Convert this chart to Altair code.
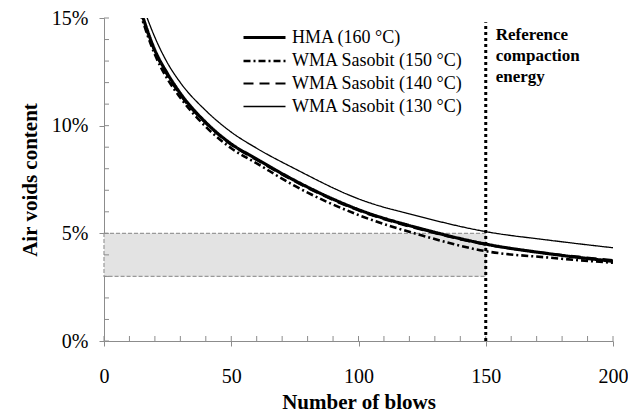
import altair as alt
import pandas as pd

# ---- data ----
series_names = ["HMA (160 °C)", "WMA Sasobit (150 °C)", "WMA Sasobit (140 °C)", "WMA Sasobit (130 °C)"]

hma_blows = [14, 20, 25, 30, 40, 50, 60, 75, 100, 125, 150, 175, 200]
hma_voids = [15.5, 13.5, 12.4, 11.5, 10.15, 9.15, 8.45, 7.45, 6.1, 5.2, 4.5, 4.05, 3.7]

w150_blows = [14, 20, 25, 30, 40, 50, 60, 75, 100, 125, 150, 175, 200]
w150_voids = [15.3, 13.3, 12.15, 11.3, 9.95, 8.95, 8.25, 7.2, 5.85, 4.9, 4.17, 3.87, 3.63]

w140_blows = [14, 20, 25, 30, 40, 50, 60, 75, 100, 125, 150, 175, 200]
w140_voids = [15.4, 13.4, 12.3, 11.4, 10.1, 9.1, 8.4, 7.4, 6.05, 5.15, 4.47, 4.07, 3.76]

w130_blows = [16, 20, 25, 30, 40, 50, 60, 75, 100, 125, 150, 175, 200]
w130_voids = [15.3, 14.1, 12.9, 12.0, 10.7, 9.7, 8.95, 8.0, 6.6, 5.75, 5.08, 4.68, 4.33]

band_x = [0, 150]
band_y = [3, 5]
reference_blows = 150
reference_text = ["Reference", "compaction", "energy"]

x_major = [0, 50, 100, 150, 200]
x_minor = list(range(0, 201, 10))
y_major = [0, 5, 10, 15]
y_minor = list(range(0, 16, 1))

# ---- build tables ----
rows = []
for name, bl, vv in zip(series_names,
                        [hma_blows, w150_blows, w140_blows, w130_blows],
                        [hma_voids, w150_voids, w140_voids, w130_voids]):
    for b, v in zip(bl, vv):
        rows.append({"series": name, "blows": b, "voids": v})
df = pd.DataFrame(rows)

W, H = 509, 323
FONT = "Liberation Serif"

xscale = alt.Scale(domain=[0, 200], nice=False, zero=False)
yscale = alt.Scale(domain=[0, 15], nice=False)

band = alt.Chart(pd.DataFrame({"x": [band_x[0]], "x2": [band_x[1]], "y": [band_y[0]], "y2": [band_y[1]]})).mark_rect(
    fill="#e3e3e3", stroke="#999999", strokeDash=[4, 2], strokeWidth=1.2
).encode(
    x=alt.X("x:Q", scale=xscale, title="Number of blows",
            axis=alt.Axis(values=x_major, grid=False, tickSize=5, labelPadding=20,
                          labelFlush=False,
                          domainColor="#8c8c8c", tickColor="#8c8c8c", labelFont=FONT,
                          labelFontSize=20, labelColor="black", titleFont=FONT,
                          titleFontSize=21, titleFontWeight="bold", titleColor="black",
                          titlePadding=5)),
    x2="x2:Q",
    y=alt.Y("y:Q", scale=yscale, title="Air voids content",
            axis=alt.Axis(values=y_major, grid=False, tickSize=5, labelPadding=11,
                          labelExpr="datum.value + '%'", labelFlush=False,
                          domainColor="#8c8c8c", tickColor="#8c8c8c", labelFont=FONT,
                          labelFontSize=20, labelColor="black", titleFont=FONT,
                          titleFontSize=21, titleFontWeight="bold", titleColor="black",
                          titlePadding=11)),
    y2="y2:Q",
)

xt = alt.Chart(pd.DataFrame({"t": x_minor})).mark_rule(color="#8c8c8c", strokeWidth=1).encode(
    x=alt.X("t:Q", scale=xscale), y=alt.value(H), y2=alt.value(H - 5)
)
yt = alt.Chart(pd.DataFrame({"t": y_minor})).mark_rule(color="#8c8c8c", strokeWidth=1).encode(
    y=alt.Y("t:Q", scale=yscale), x=alt.value(0), x2=alt.value(5)
)

vline = alt.Chart(pd.DataFrame({"x": [reference_blows], "y": [0], "y2": [14.8]})).mark_rule(
    color="black", strokeWidth=3, strokeDash=[3, 3]
).encode(x=alt.X("x:Q", scale=xscale), y=alt.Y("y:Q", scale=yscale), y2="y2:Q")

txt = alt.Chart(pd.DataFrame({"x": [reference_blows], "y": [14.8], "t": ["\n".join(reference_text)]})).mark_text(
    align="left", baseline="top", dx=10, dy=5, font=FONT, fontSize=17, fontWeight="bold",
    lineHeight=21, lineBreak="\n", color="black"
).encode(x=alt.X("x:Q", scale=xscale), y=alt.Y("y:Q", scale=yscale), text="t:N")

lines = alt.Chart(df).mark_line(interpolate="monotone", clip=True, color="black").encode(
    x=alt.X("blows:Q", scale=xscale),
    y=alt.Y("voids:Q", scale=yscale),
    strokeDash=alt.StrokeDash("series:N", scale=alt.Scale(domain=series_names,
                              range=[[1, 0], [7, 3, 2, 3], [10, 6], [1, 0]]),
                              legend=alt.Legend(title=None)),
    strokeWidth=alt.StrokeWidth("series:N", scale=alt.Scale(domain=series_names,
                                range=[3.2, 1.3, 3.2, 1.4]),
                                legend=alt.Legend(title=None)),
)

chart = alt.layer(band, xt, yt, lines, vline, txt).properties(
    width=W, height=H,
    padding={"left": 11, "top": 0, "right": 0, "bottom": 0},
).configure_view(stroke=None).configure_legend(
    orient="none", legendX=148, legendY=7, padding=0,
    symbolType="M-2,0L2,0", symbolSize=441, symbolStrokeColor="black",
    labelFont=FONT, labelFontSize=18, labelColor="black", labelOffset=15,
    rowPadding=2, labelLimit=300,
)

chart.save("out.html", embed_options={"renderer": "svg", "actions": False})
